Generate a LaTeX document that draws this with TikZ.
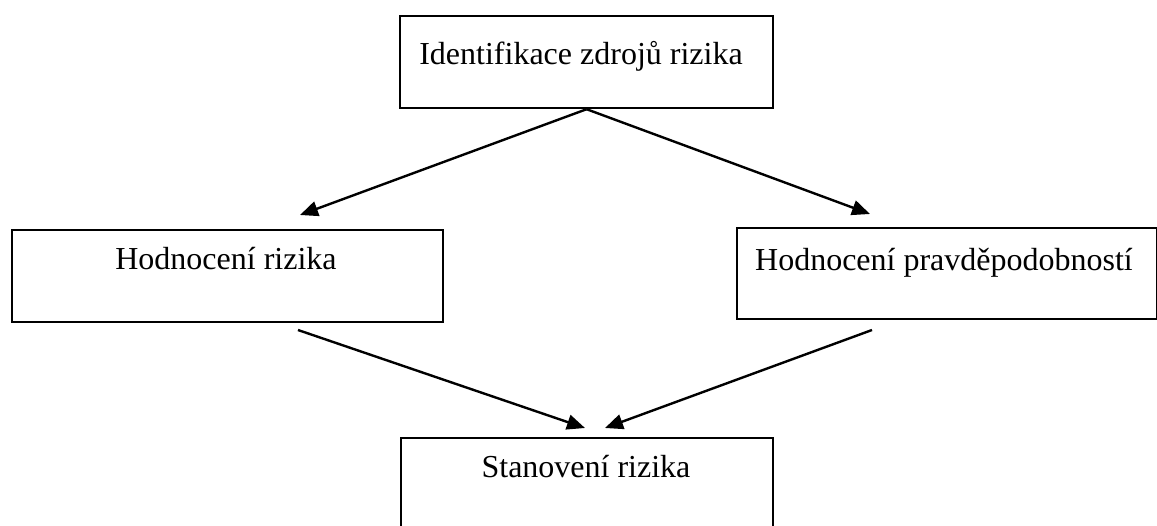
\documentclass[tikz,border=0pt]{standalone}
\usepackage{fontspec}
\setmainfont{Liberation Serif}
\usetikzlibrary{arrows.meta}
\begin{document}
\begin{tikzpicture}[x=1pt,y=-1pt,
  box/.style={draw=black,line width=2.2pt,rectangle,inner sep=0pt,anchor=north west},
  lbl/.style={anchor=base,inner sep=0pt,font=\fontsize{32}{38}\selectfont},
  conn/.style={line width=2.4pt,-{Triangle[length=18pt,width=15pt]}}]
\path[use as bounding box,clip] (0,0) rectangle (1157,525);
\fill[white] (0,0) rectangle (1157,525);
% boxes
\node[box,minimum width=373pt,minimum height=92pt] (top) at (399,15) {};
\node[box,minimum width=431pt,minimum height=92pt] (left) at (11,229) {};
\node[box,minimum width=420pt,minimum height=91pt] (right) at (736,227) {};
\node[box,minimum width=372pt,minimum height=130pt] (bottom) at (400,437) {};
% labels
\node[lbl] (ttop) at (581,64) {Identifikace zdrojů rizika};
\node[lbl] (tleft) at (226,269) {Hodnocení rizika};
\node[lbl] (tright) at (944,270) {Hodnocení pravděpodobností};
\node[lbl] (tbottom) at (586,477) {Stanovení rizika};
% connector ends
\coordinate (tipL) at (300,215);
\coordinate (tipR) at (870,214);
\coordinate (srcL) at (298,330);
\coordinate (srcR) at (872,330);
\coordinate (tipBL) at (585,428);
\coordinate (tipBR) at (605,428);
\draw[conn] (top.south) -- (tipL);
\draw[conn] (top.south) -- (tipR);
\draw[conn] (srcL) -- (tipBL);
\draw[conn] (srcR) -- (tipBR);
\end{tikzpicture}
\end{document}
